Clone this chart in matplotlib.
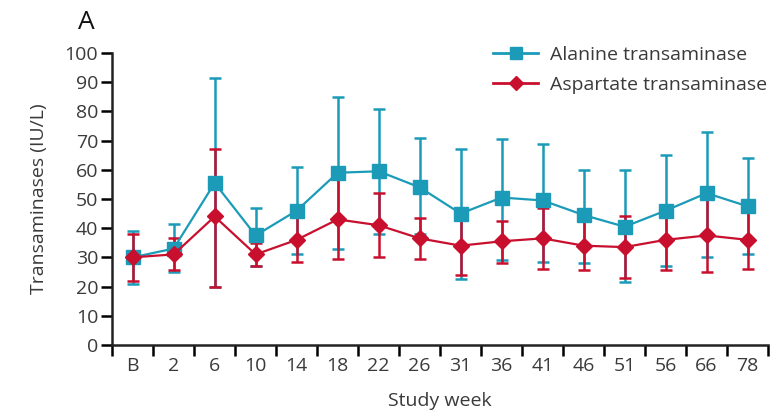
import numpy as np
import matplotlib.pyplot as plt
from matplotlib.lines import Line2D

plt.rcParams['font.family'] = ['Open Sans', 'DejaVu Sans']

# study weeks (B = baseline)
weeks = ['B', '2', '6', '10', '14', '18', '22', '26', '31', '36', '41', '46', '51', '56', '66', '78']

# alanine transaminase, mean with upper/lower bar ends (IU/L)
alt_mean = [30, 33, 55.5, 37.5, 46, 59, 59.5, 54, 45, 50.5, 49.5, 44.5, 40.5, 46, 52, 47.5]
alt_hi   = [39, 41.5, 91.5, 47, 61, 85, 81, 71, 67, 70.5, 69, 60, 60, 65, 73, 64]
alt_lo   = [21, 25, 20, 27, 31, 33, 38, 38, 22.5, 29, 28.5, 28, 21.5, 27, 30, 31]

# aspartate transaminase
ast_mean = [30, 31, 44, 31, 36, 43, 41, 36.5, 34, 35.5, 36.5, 34, 33.5, 36, 37.5, 36]
ast_hi   = [38, 36.5, 67, 35, 46, 57, 52, 43.5, 45, 42.5, 47, 43, 44, 46, 50, 45.5]
ast_lo   = [22, 25.5, 20, 27, 28.5, 29.5, 30, 29.5, 24, 28, 26, 25.5, 23, 25.5, 25, 26]

teal = '#1b9bb8'
red = '#c8102e'
grey = '#3a3a3a'
fs = 14

x = np.arange(len(weeks))

fig = plt.figure(figsize=(7.79, 4.12), dpi=100)
ax = fig.add_axes([0.144, 0.163, 0.842, 0.708])


def series(mean, lo, hi, col, mk, ms):
    mean = np.array(mean)
    err = [mean - np.array(lo), np.array(hi) - mean]
    ax.errorbar(x, mean, yerr=err, color=col, ecolor=col, elinewidth=1.8,
                capsize=4, capthick=1.8, lw=1.6, marker=mk, ms=ms,
                mec=col, mfc=col)


series(alt_mean, alt_lo, alt_hi, teal, 's', 10)
series(ast_mean, ast_lo, ast_hi, red, 'D', 8.5)

ax.set_xlim(-0.5, len(weeks) - 0.5)
ax.set_ylim(0, 100)
ax.set_yticks(np.arange(0, 101, 10))
ax.set_xticks(x)
ax.set_xticklabels(weeks)
ax.set_xticks(np.arange(-0.5, len(weeks), 1), minor=True)
ax.tick_params(axis='x', which='major', length=0, pad=9, labelsize=fs, labelcolor=grey)
ax.tick_params(axis='x', which='minor', length=8, width=1.8, direction='out')
ax.tick_params(axis='y', length=8, width=1.8, pad=2, labelsize=fs, labelcolor=grey)

for s in ['top', 'right']:
    ax.spines[s].set_visible(False)
for s in ['left', 'bottom']:
    ax.spines[s].set_linewidth(1.8)
    ax.spines[s].set_color('#222222')

ax.set_xlabel('Study week', fontsize=fs, color=grey, labelpad=12)
ax.set_ylabel('Transaminases (IU/L)', fontsize=fs, color=grey, labelpad=12)

# legend keys without the error bars
handles = [Line2D([], [], color=teal, lw=2, marker='s', ms=9, mec=teal),
           Line2D([], [], color=red, lw=2, marker='D', ms=7.5, mec=red)]
leg = ax.legend(handles, ['Alanine transaminase', 'Aspartate transaminase'],
                loc='upper right', bbox_to_anchor=(1.025, 1.085), frameon=False,
                fontsize=fs, handlelength=2.3, handletextpad=0.6,
                labelspacing=0.6)
for t in leg.get_texts():
    t.set_color(grey)

fig.text(0.1, 0.945, 'A', fontsize=19, color='#111111', ha='left', va='center')

fig.savefig('out.png', dpi=100)
